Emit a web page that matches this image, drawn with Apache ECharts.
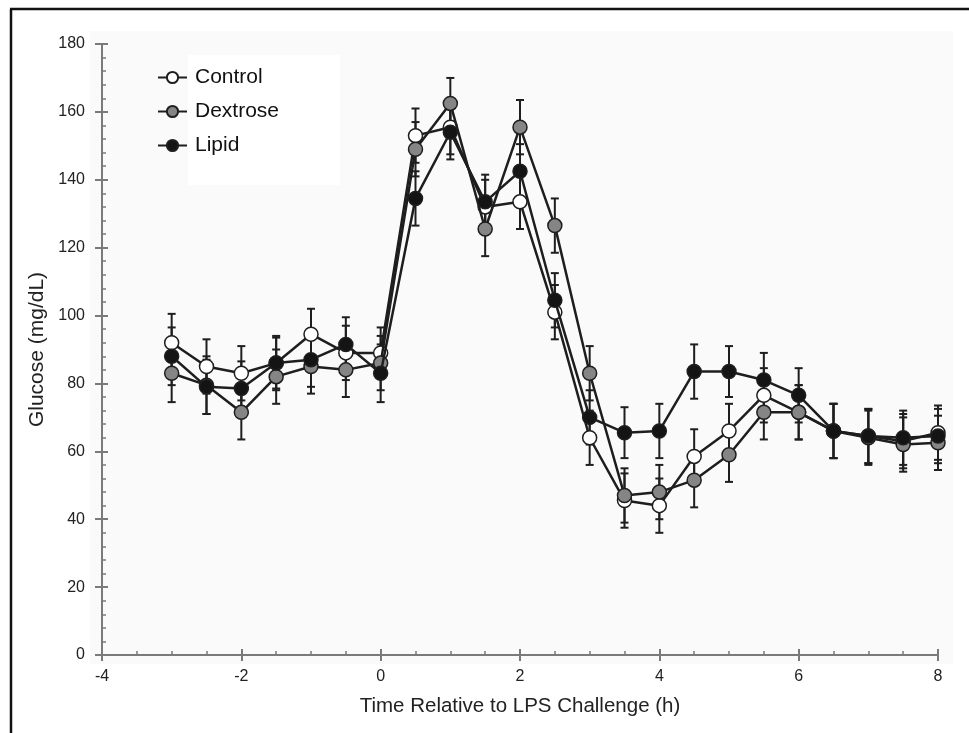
<!DOCTYPE html>
<html>
<head>
<meta charset="utf-8">
<script src="https://cdn.jsdelivr.net/npm/echarts@6/dist/echarts.min.js"></script>
<style>
  html, body { margin: 0; padding: 0; background: #fff; }
  #chart { width: 969px; height: 733px; }
</style>
</head>
<body>
<div id="chart"></div>
<script>
// Sampling times (h relative to LPS challenge)
const times = [-3, -2.5, -2, -1.5, -1, -0.5, 0, 0.5, 1, 1.5, 2, 2.5, 3, 3.5, 4, 4.5, 5, 5.5, 6, 6.5, 7, 7.5, 8];

// Mean glucose (mg/dL) and SE for each group
const controlMean  = [92, 85, 83, 86, 94.5, 89, 89, 153, 155.5, 132, 133.5, 101, 64, 45.5, 44, 58.5, 66, 76.5, 71.5, 66, 64.5, 63, 65.5];
const controlSE    = [8.5, 8, 8, 8, 7.5, 8, 7.5, 8, 8, 8, 8, 8, 8, 8, 8, 8, 8, 8, 8, 8, 8, 8, 8];
const dextroseMean = [83, 79.5, 71.5, 82, 85, 84, 86, 149, 162.5, 125.5, 155.5, 126.5, 83, 47, 48, 51.5, 59, 71.5, 71.5, 66, 64, 62, 62.5];
const dextroseSE   = [8.5, 8.5, 8, 8, 8, 8, 8, 8, 7.5, 8, 8, 8, 8, 8, 8, 8, 8, 8, 8, 8, 8, 8, 8];
const lipidMean    = [88, 79, 78.5, 86, 87, 91.5, 83, 134.5, 154, 133.5, 142.5, 104.5, 70, 65.5, 66, 83.5, 83.5, 81, 76.5, 66, 64.5, 64, 64.5];
const lipidSE      = [8.5, 8, 8, 7.5, 8, 8, 8.5, 8, 8, 8, 8, 8, 8, 7.5, 8, 8, 7.5, 8, 8, 8, 8, 8, 8];

const groupNames = ['Control', 'Dextrose', 'Lipid'];
const xTicks = { min: -4, max: 8, interval: 2 };
const yTicks = { min: 0, max: 180, interval: 20 };

const FONT = '"Liberation Sans", Arial, Helvetica, sans-serif';
const INK = '#1e1e1e';
const AXIS = '#7a7a7a';

const gridBox = { left: 102, right: 31, top: 44, bottom: 78 };
const plotW = 969 - gridBox.left - gridBox.right;
const plotH = 733 - gridBox.top - gridBox.bottom;

function pairs(means) {
  return times.map((t, i) => [t, means[i]]);
}
function ranges(means, se) {
  return times.map((t, i) => [t, means[i] - se[i], means[i] + se[i]]);
}

function errorBars(api) {
  const x = api.value(0);
  const lo = api.coord([x, api.value(1)]);
  const hi = api.coord([x, api.value(2)]);
  const cap = 4;
  const st = { stroke: INK, lineWidth: 2 };
  return {
    type: 'group',
    children: [
      { type: 'line', shape: { x1: lo[0], y1: lo[1], x2: hi[0], y2: hi[1] }, style: st },
      { type: 'line', shape: { x1: hi[0] - cap, y1: hi[1], x2: hi[0] + cap, y2: hi[1] }, style: st },
      { type: 'line', shape: { x1: lo[0] - cap, y1: lo[1], x2: lo[0] + cap, y2: lo[1] }, style: st }
    ]
  };
}

function errSeries(name, means, se) {
  return {
    name: name + ' SE',
    type: 'custom',
    xAxisIndex: 0,
    yAxisIndex: 0,
    renderItem: (params, api) => errorBars(api),
    encode: { x: 0, y: [1, 2] },
    data: ranges(means, se),
    z: 2,
    silent: true
  };
}

function lineSeries(name, means, fill, z) {
  return {
    name: name,
    type: 'line',
    xAxisIndex: 0,
    yAxisIndex: 0,
    data: pairs(means),
    symbol: 'circle',
    symbolSize: 14,
    lineStyle: { color: INK, width: 2.5 },
    itemStyle: { color: fill, borderColor: INK, borderWidth: 1.5 },
    emphasis: { disabled: true },
    z: z,
    animation: false
  };
}

const chart = echarts.init(document.getElementById('chart'), null, { renderer: 'canvas' });

chart.setOption({
  backgroundColor: '#ffffff',
  animation: false,
  textStyle: { fontFamily: FONT },
  graphic: [
    // light plotting panel
    { type: 'rect', z: -10, shape: { x: 90, y: 31, width: 863, height: 633 }, style: { fill: '#fafafa' } },
    // white box behind legend labels
    { type: 'rect', z: -9, shape: { x: 188, y: 55, width: 152, height: 130 }, style: { fill: '#ffffff' } },
    // outer frame
    { type: 'line', z: 10, shape: { x1: 11, y1: 9, x2: 11, y2: 733 }, style: { stroke: '#111', lineWidth: 2.5 } },
    { type: 'line', z: 10, shape: { x1: 10, y1: 9, x2: 969, y2: 9 }, style: { stroke: '#111', lineWidth: 2.5 } }
  ],
  legend: {
    data: groupNames,
    orient: 'vertical',
    left: 152,
    top: 62,
    itemWidth: 29,
    itemHeight: 14,
    itemGap: 13,
    textStyle: { fontFamily: FONT, fontSize: 21, color: '#111', padding: [0, 0, 0, 3] },
    selectedMode: false
  },
  grid: gridBox,
  xAxis: [
    {
      type: 'value',
      min: xTicks.min, max: xTicks.max, interval: xTicks.interval,
      position: 'bottom',
      name: 'Time Relative to LPS Challenge (h)',
      nameLocation: 'middle',
      nameGap: 41,
      nameTextStyle: { fontFamily: FONT, fontSize: 20.5, color: '#222' },
      axisLine: { show: true, onZero: false, lineStyle: { color: AXIS, width: 2 } },
      axisTick: { show: true, inside: true, length: 6, lineStyle: { color: AXIS, width: 2 } },
      minorTick: { show: true, splitNumber: 4, length: 4, lineStyle: { color: AXIS, width: 1.5 } },
      axisLabel: { fontFamily: FONT, fontSize: 16, color: '#222', margin: 14 },
      splitLine: { show: false }
    },
    {
      // downward half of the major ticks
      type: 'value',
      min: xTicks.min, max: xTicks.max, interval: xTicks.interval,
      position: 'top',
      offset: -plotH,
      axisLine: { show: false, onZero: false },
      axisTick: { show: true, inside: true, length: 6, lineStyle: { color: AXIS, width: 2 } },
      axisLabel: { show: false },
      splitLine: { show: false }
    }
  ],
  yAxis: [
    {
      type: 'value',
      min: yTicks.min, max: yTicks.max, interval: yTicks.interval,
      position: 'left',
      name: 'Glucose (mg/dL)',
      nameLocation: 'middle',
      nameGap: 39,
      nameTextStyle: { fontFamily: FONT, fontSize: 21, color: '#222' },
      axisLine: { show: true, onZero: false, lineStyle: { color: AXIS, width: 2 } },
      axisTick: { show: true, inside: true, length: 6, lineStyle: { color: AXIS, width: 2 } },
      minorTick: { show: true, splitNumber: 5, length: 4, lineStyle: { color: AXIS, width: 1.5 } },
      axisLabel: { fontFamily: FONT, fontSize: 16, color: '#222', margin: 17 },
      splitLine: { show: false }
    },
    {
      // leftward half of the major ticks
      type: 'value',
      min: yTicks.min, max: yTicks.max, interval: yTicks.interval,
      position: 'right',
      offset: -plotW,
      axisLine: { show: false, onZero: false },
      axisTick: { show: true, inside: true, length: 7, lineStyle: { color: AXIS, width: 2 } },
      axisLabel: { show: false },
      splitLine: { show: false }
    }
  ],
  series: [
    errSeries('Control', controlMean, controlSE),
    errSeries('Dextrose', dextroseMean, dextroseSE),
    errSeries('Lipid', lipidMean, lipidSE),
    lineSeries('Control', controlMean, '#ffffff', 3),
    lineSeries('Dextrose', dextroseMean, '#858585', 4),
    lineSeries('Lipid', lipidMean, '#141414', 5)
  ]
});
</script>
</body>
</html>
